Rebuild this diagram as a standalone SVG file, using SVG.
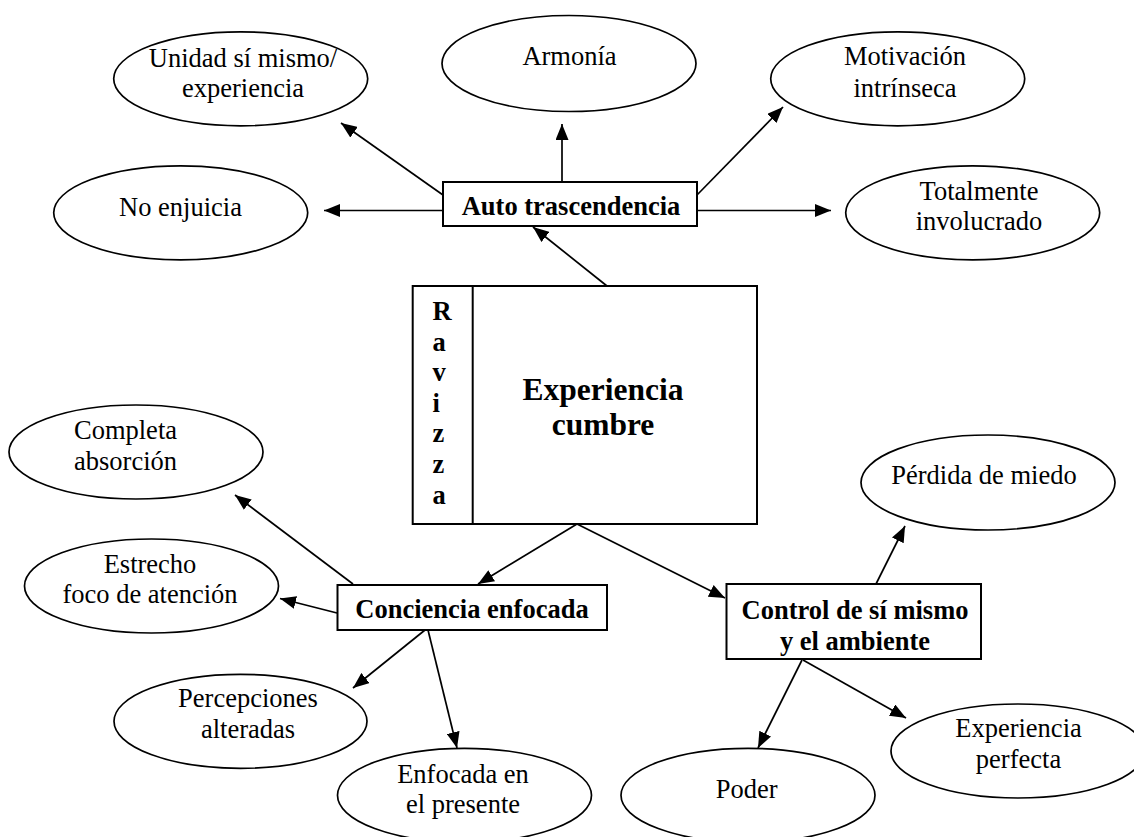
<svg xmlns="http://www.w3.org/2000/svg" width="1134" height="837" viewBox="0 0 1134 837">
  <style>
    .oval { fill: #fff; stroke: #000; stroke-width: 1.7; }
    .box { fill: #fff; stroke: #000; stroke-width: 2; }
    .t { font-family: "Liberation Serif", "Times New Roman", serif; font-size: 26.5px; fill: #000; text-anchor: middle; }
    .b { font-family: "Liberation Serif", "Times New Roman", serif; font-size: 26.5px; font-weight: bold; fill: #000; text-anchor: middle; }
    .big { font-size: 31.5px; }
    .conn line { stroke: #000; stroke-width: 1.7; marker-end: url(#arrow); }
  </style>
  <defs>
    <marker id="arrow" markerUnits="userSpaceOnUse" markerWidth="17" markerHeight="13" refX="16" refY="6.5" orient="auto">
      <path d="M0,0 L16,6.5 L0,13 z" fill="#000"/>
    </marker>
  </defs>
  <rect width="1134" height="837" fill="#fff"/>

  <!-- connectors -->
  <g id="connectors" class="conn">
    <line x1="443" y1="195" x2="341" y2="123"/>
    <line x1="443" y1="210.5" x2="324" y2="210.5"/>
    <line x1="562" y1="182" x2="562" y2="124"/>
    <line x1="697" y1="195" x2="783" y2="107"/>
    <line x1="697" y1="210.5" x2="831" y2="210.5"/>
    <line x1="607" y1="286" x2="533" y2="227"/>
    <line x1="577" y1="524" x2="478" y2="584"/>
    <line x1="577" y1="524" x2="725" y2="598"/>
    <line x1="353" y1="584" x2="235" y2="495"/>
    <line x1="337" y1="613" x2="280" y2="598.5"/>
    <line x1="425" y1="630" x2="353" y2="688"/>
    <line x1="428" y1="630" x2="457" y2="748"/>
    <line x1="876" y1="584" x2="905" y2="526"/>
    <line x1="802" y1="660" x2="758" y2="748"/>
    <line x1="803" y1="660" x2="906" y2="718"/>
  </g>

  <!-- central node -->
  <g id="experiencia-cumbre">
    <rect class="box" x="412.7" y="286" width="344.3" height="238"/>
    <line x1="472.7" y1="286" x2="472.7" y2="524" stroke="#000" stroke-width="2"/>
    <text class="b" style="text-anchor:start">
      <tspan x="432.5" y="320">R</tspan>
      <tspan x="432.5" y="351">a</tspan>
      <tspan x="432.5" y="381">v</tspan>
      <tspan x="432.5" y="412">i</tspan>
      <tspan x="432.5" y="442">z</tspan>
      <tspan x="432.5" y="473">z</tspan>
      <tspan x="432.5" y="504">a</tspan>
    </text>
    <text class="b big"><tspan x="603" y="400">Experiencia</tspan><tspan x="603" y="435">cumbre</tspan></text>
  </g>

  <!-- category boxes -->
  <g id="auto-trascendencia">
    <rect class="box" x="443" y="182" width="254" height="44"/>
    <text class="b" x="571" y="215">Auto trascendencia</text>
  </g>
  <g id="conciencia-enfocada">
    <rect class="box" x="337.5" y="585" width="269.5" height="45"/>
    <text class="b" x="472" y="618">Conciencia enfocada</text>
  </g>
  <g id="control">
    <rect class="box" x="726.5" y="584" width="254.5" height="75"/>
    <text class="b"><tspan x="855" y="619">Control de sí mismo</tspan><tspan x="855" y="650">y el ambiente</tspan></text>
  </g>

  <!-- outcome ovals -->
  <g id="unidad">
    <ellipse class="oval" cx="240.7" cy="78.8" rx="127" ry="47"/>
    <text class="t"><tspan x="243" y="66.7">Unidad sí mismo/</tspan><tspan x="243" y="96.7">experiencia</tspan></text>
  </g>
  <g id="armonia">
    <ellipse class="oval" cx="569" cy="63.5" rx="127" ry="48"/>
    <text class="t" x="569.5" y="65">Armonía</text>
  </g>
  <g id="motivacion">
    <ellipse class="oval" cx="897.7" cy="78.8" rx="127" ry="47"/>
    <text class="t"><tspan x="905" y="65">Motivación</tspan><tspan x="905" y="96.7">intrínseca</tspan></text>
  </g>
  <g id="no-enjuicia">
    <ellipse class="oval" cx="180.7" cy="212.8" rx="127" ry="47"/>
    <text class="t" x="180.5" y="216">No enjuicia</text>
  </g>
  <g id="totalmente">
    <ellipse class="oval" cx="972.7" cy="212.8" rx="127" ry="47"/>
    <text class="t"><tspan x="979" y="200">Totalmente</tspan><tspan x="979" y="230">involucrado</tspan></text>
  </g>
  <g id="completa">
    <ellipse class="oval" cx="136" cy="452" rx="127" ry="47"/>
    <text class="t"><tspan x="125.5" y="439">Completa</tspan><tspan x="125.5" y="470">absorción</tspan></text>
  </g>
  <g id="estrecho">
    <ellipse class="oval" cx="151.5" cy="586" rx="127" ry="47"/>
    <text class="t"><tspan x="150" y="573">Estrecho</tspan><tspan x="150" y="603">foco de atención</tspan></text>
  </g>
  <g id="perdida">
    <ellipse class="oval" cx="988" cy="482.5" rx="127" ry="47.5"/>
    <text class="t" x="984" y="484">Pérdida de miedo</text>
  </g>
  <g id="percepciones">
    <ellipse class="oval" cx="240.5" cy="721.3" rx="126.5" ry="47"/>
    <text class="t"><tspan x="248" y="706.7">Percepciones</tspan><tspan x="248" y="738.3">alteradas</tspan></text>
  </g>
  <g id="enfocada">
    <ellipse class="oval" cx="464.5" cy="795.3" rx="127" ry="47"/>
    <text class="t"><tspan x="463" y="782.7">Enfocada en</tspan><tspan x="463" y="813.3">el presente</tspan></text>
  </g>
  <g id="poder">
    <ellipse class="oval" cx="748" cy="795.3" rx="127" ry="47"/>
    <text class="t" x="746.7" y="798.3">Poder</text>
  </g>
  <g id="experiencia-perfecta">
    <ellipse class="oval" cx="1018" cy="751" rx="127" ry="47"/>
    <text class="t"><tspan x="1018.5" y="736.7">Experiencia</tspan><tspan x="1018.5" y="768.3">perfecta</tspan></text>
  </g>
</svg>
